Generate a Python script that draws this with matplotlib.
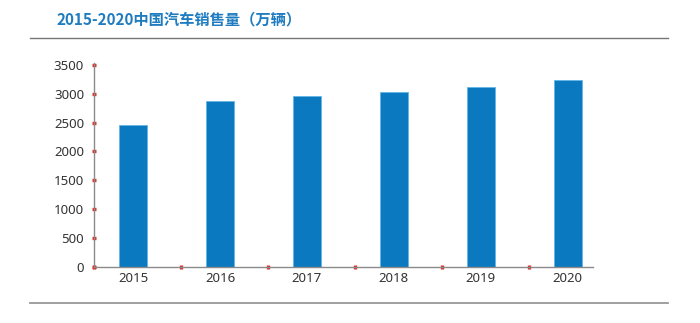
import numpy as np
import matplotlib.pyplot as plt
from matplotlib.lines import Line2D

plt.rcParams['font.family'] = ['Noto Sans', 'Noto Sans CJK SC', 'DejaVu Sans']

years = ['2015', '2016', '2017', '2018', '2019', '2020']
sales = [2460, 2880, 2955, 3035, 3115, 3235]
y_ticks = [0, 500, 1000, 1500, 2000, 2500, 3000, 3500]
title = '2015-2020中国汽车销售量（万辆）'

fig = plt.figure(figsize=(7, 3.23), dpi=100)
ax = fig.add_axes([0.1343, 0.1745, 0.7127, 0.63])

x = np.arange(len(years))
ax.bar(x, sales, width=0.32, color='#0a79c0', edgecolor='#62b6e6', linewidth=0.6, zorder=2)

ax.set_xlim(-0.45, 5.29)
ax.set_ylim(0, 3530)
ax.set_yticks(y_ticks)
ax.set_xticks(x)
ax.set_xticklabels(years)
ax.set_xticks(np.arange(len(years)) - 0.45, minor=True)

for s in ['top', 'right']:
    ax.spines[s].set_visible(False)
for s in ['left', 'bottom']:
    ax.spines[s].set_color('#8a8a8a')
    ax.spines[s].set_linewidth(1.0)

# small red dots where the ticks sit
ax.tick_params(axis='x', which='major', length=0, pad=4, labelsize=9.5, labelcolor='#333333')
ax.tick_params(axis='x', which='minor', length=2.4, width=2.4, direction='inout', color='#d8322b')
ax.tick_params(axis='y', length=2.4, width=2.4, direction='inout', color='#d8322b', pad=6,
               labelsize=9.5, labelcolor='#333333')

fig.text(0.081, 0.94, title, fontsize=11, fontweight='bold', color='#1f7cc0',
         family=['Noto Sans CJK SC', 'DejaVu Sans'], va='center', ha='left')

fig.add_artist(Line2D([0.043, 0.954], [0.882, 0.882], color='#777777', linewidth=1.0))
fig.add_artist(Line2D([0.043, 0.954], [0.063, 0.063], color='#999999', linewidth=1.3))

fig.savefig('out.png', dpi=100)
